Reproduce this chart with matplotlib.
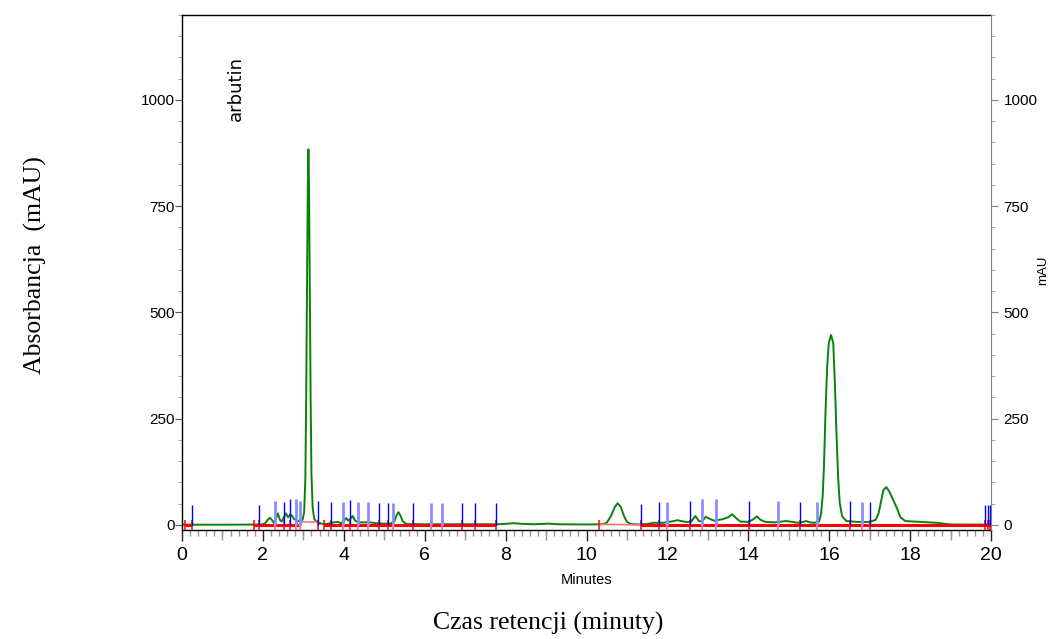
import numpy as np
import matplotlib.pyplot as plt

# chromatogram trace (time in minutes, absorbance in mAU)
trace_t = [0.00, 1.00, 1.95, 2.05, 2.12, 2.17, 2.22, 2.27, 2.32, 2.37, 2.42, 2.46,
           2.52, 2.57, 2.62, 2.67, 2.71, 2.76, 2.81, 2.87, 2.93, 2.98, 3.02, 3.05,
           3.07, 3.09, 3.11, 3.125, 3.14, 3.16, 3.18, 3.20, 3.23, 3.27, 3.33, 3.40,
           3.50, 3.62, 3.75, 3.85, 3.93, 4.00, 4.06, 4.11, 4.17, 4.22, 4.28, 4.36,
           4.50, 4.65, 4.80, 5.00, 5.15, 5.25, 5.30, 5.35, 5.40, 5.46, 5.55, 6.00,
           7.00, 7.80, 8.00, 8.20, 8.40, 8.70, 9.05, 9.30, 10.00, 10.40, 10.50, 10.60,
           10.70, 10.77, 10.85, 10.93, 11.00, 11.10, 11.30, 11.50, 11.65, 11.90, 12.10, 12.25,
           12.45, 12.58, 12.69, 12.78, 12.85, 12.95, 13.05, 13.15, 13.35, 13.50, 13.60, 13.70,
           13.80, 14.00, 14.12, 14.21, 14.30, 14.42, 14.65, 14.93, 15.10, 15.22, 15.35, 15.43,
           15.52, 15.65, 15.75, 15.80, 15.84, 15.87, 15.91, 15.95, 15.99, 16.045, 16.10, 16.14,
           16.18, 16.22, 16.26, 16.32, 16.43, 16.70, 17.00, 17.15, 17.22, 17.28, 17.34, 17.41,
           17.49, 17.59, 17.68, 17.76, 17.88, 18.25, 18.66, 19.00, 20.00]
trace_mau = [0.5, 0.5, 0.8, 3, 12, 17, 12, 5, 14, 27, 12, 8,
             18, 27, 18, 24, 23, 15, 11, 9, 9, 12, 30, 110,
             300, 560, 800, 884, 800, 560, 300, 120, 40, 14, 7, 4,
             2, 3, 6, 7, 4, 9, 16, 10, 15, 21, 10, 6,
             6, 6, 4, 3, 3, 8, 22, 30, 22, 8, 2, 1.5,
             1.5, 1.5, 2.5, 4, 2.5, 1.5, 3, 1.5, 1, 1.5, 5, 20,
             42, 51, 42, 20, 7, 2, 1, 2, 5, 5, 8, 11,
             7, 7, 21, 9, 8, 19, 14, 10, 13, 18, 25, 16,
             8, 7, 13, 20, 12, 7, 6, 9, 7, 5, 7, 9,
             6, 5, 8, 27, 70, 137, 270, 372, 428, 447, 428, 334,
             216, 114, 52, 20, 9, 7, 7, 12, 27, 55, 82, 89,
             78, 57, 38, 18, 9, 7, 5, 1, 0.5]

# peak markers (blue) : time, top, faded?
mark_t = [0.24, 1.91, 2.30, 2.52, 2.66, 2.81, 2.92, 3.35, 3.68, 3.99, 4.15, 4.36,
          4.60, 4.88, 5.09, 5.21, 5.70, 6.16, 6.44, 6.92, 7.25, 7.77, 11.34, 11.79,
          12.00, 12.57, 12.86, 13.19, 14.02, 14.73, 15.28, 15.71, 16.52, 16.82, 17.01,
          19.86, 19.92, 19.98]
mark_top = [47, 47, 56, 54, 61, 61, 56, 56, 54, 54, 59, 54,
            54, 52, 52, 52, 52, 52, 52, 52, 52, 52, 49, 54,
            54, 56, 61, 61, 56, 56, 54, 54, 56, 54, 54,
            47, 47, 47]
mark_faded = [0, 0, 1, 0, 0, 1, 1, 0, 0, 1, 0, 1,
              1, 0, 0, 1, 0, 1, 1, 0, 0, 0, 0, 0,
              1, 0, 1, 1, 0, 1, 0, 1, 0, 1, 0,
              0, 0, 0]

# integration baselines (red): start, end, level at start, level at end, main?
base_start = [0.07, 1.79, 2.92, 3.52, 10.30, 11.34]
base_end = [0.24, 2.92, 3.35, 7.77, 11.34, 20.00]
base_y0 = [0, 0, 7, 0, 1.5, 0]
base_y1 = [0, 0, 7, 0, 0, 0]
base_main = [1, 1, 0, 1, 0, 1]
base_ticks = [0.07, 1.79, 3.52, 10.30]

fig = plt.figure(figsize=(10.51, 6.39), dpi=100)
ax = fig.add_axes([182 / 1051, 1 - 530 / 639, 809 / 1051, 515 / 639])

ax.plot(trace_t, trace_mau, color='#0a820a', lw=1.4, zorder=2)

for s, e, y0, y1, m in zip(base_start, base_end, base_y0, base_y1, base_main):
    if m:
        ax.plot([s, e], [y0, y1], color='#ff0000', lw=2.2, zorder=3, solid_capstyle='butt')
    else:
        ax.plot([s, e], [y0, y1], color='#ff7070', lw=1.2, zorder=3)

# red tick at every integration boundary
for t, f in zip(mark_t + base_ticks, mark_faded + [0] * len(base_ticks)):
    ax.vlines(t, -14, 12, color='#ff8080' if f else '#ff0000', lw=1.5 if f else 1.1, zorder=3)

for t, h, f in zip(mark_t, mark_top, mark_faded):
    if f:
        ax.vlines(t, 0, h, color='#8c8cff', lw=2.0, zorder=4)
    else:
        ax.vlines(t, 0, h, color='#0000ff', lw=1.0, zorder=4)

ax.text(1.33, 1028, 'arbutin', rotation=90, ha='center', va='center',
        fontsize=13, family='DejaVu Sans')

ax.set_xlim(0, 20)
ax.set_ylim(-12, 1200)

ax.set_xticks(np.arange(0, 21, 2))
ax.set_xticks(np.arange(0, 20.01, 0.2), minor=True)
ax.tick_params(axis='x', which='major', length=8, width=1, color='#222222', pad=4)
ax.tick_params(axis='x', which='minor', length=4, width=1, color='#999999')
for lab in ax.get_xticklabels():
    lab.set_family('Liberation Sans')
    lab.set_fontsize(14)

odd = ax.secondary_xaxis('bottom')
odd.set_xticks(np.arange(1, 20, 2))
odd.tick_params(length=7, width=1, color='#999999', labelbottom=False)
odd.spines['bottom'].set_visible(False)

ax.set_yticks([0, 250, 500, 750, 1000])
ax.set_yticks(np.arange(0, 1201, 50), minor=True)
ax.tick_params(axis='y', which='major', length=5, color='#555555', pad=0, labelsize=11)
ax.tick_params(axis='y', which='minor', length=3, color='#999999')
for lab in ax.get_yticklabels():
    lab.set_family('Liberation Sans')

ax2 = ax.twinx()
ax2.set_ylim(ax.get_ylim())
ax2.set_yticks([0, 250, 500, 750, 1000])
ax2.set_yticks(np.arange(0, 1201, 50), minor=True)
ax2.tick_params(axis='y', which='major', length=5, color='#808080', pad=4, labelsize=11)
ax2.tick_params(axis='y', which='minor', length=3, color='#999999')
for lab in ax2.get_yticklabels():
    lab.set_family('Liberation Sans')
for side in ['top', 'left', 'bottom']:
    ax2.spines[side].set_visible(False)
ax2.spines['right'].set_color('#808080')
ax.spines['right'].set_visible(False)
for side in ['top', 'left', 'bottom']:
    ax.spines[side].set_color('black')
    ax.spines[side].set_linewidth(1.0)

ax.set_xlabel('Minutes', family='Liberation Sans', fontsize=10.5, labelpad=7)
fig.text(1043 / 1051, 1 - 270 / 639, 'mAU', rotation=90, ha='center', va='center',
         fontsize=9.5, family='Liberation Sans')

fig.text(35 / 1051, 1 - 265 / 639, 'Absorbancja  (mAU)', rotation=90, ha='center',
         va='center', fontsize=18.5, family='Liberation Serif')
fig.text(548 / 1051, 1 - 623 / 639, 'Czas retencji (minuty)', ha='center', va='center',
         fontsize=18.5, family='Liberation Serif')

fig.savefig('out.png', dpi=100)
